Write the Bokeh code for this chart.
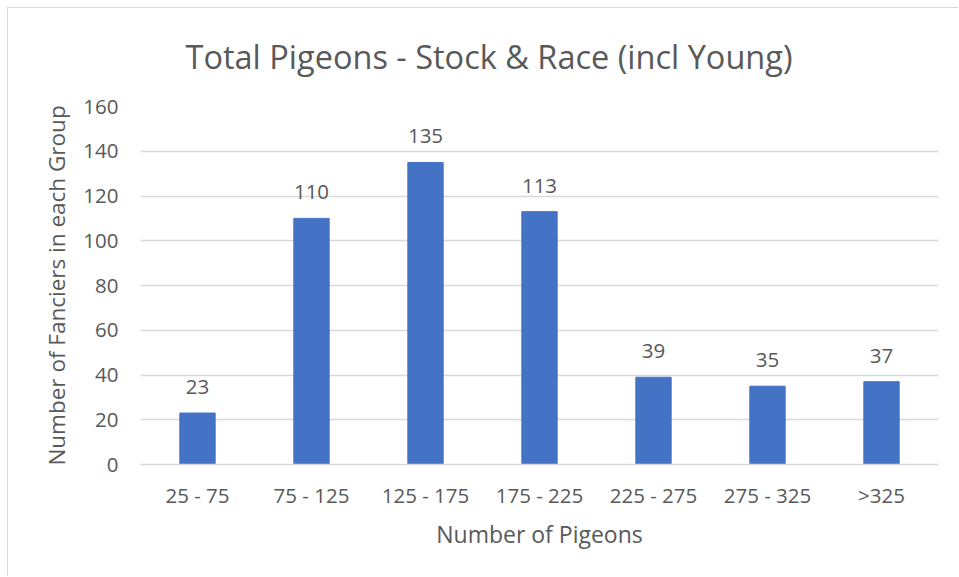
from bokeh.plotting import figure
from bokeh.models import ColumnDataSource, LabelSet, FactorRange, Range1d, SingleIntervalTicker, Title
from bokeh.core.properties import value
from bokeh.embed import file_html
from bokeh.resources import INLINE

categories = ["25 - 75", "75 - 125", "125 - 175", "175 - 225", "225 - 275", "275 - 325", ">325"]
fanciers = [23, 110, 135, 113, 39, 35, 37]

title_text = "Total Pigeons - Stock & Race (incl Young)"
x_label = "Number of Pigeons"
y_label = "Number of Fanciers in each Group"

FONT = "Open Sans"
TXT = "#595959"
GRID = "#d9d9d9"
BAR = "#4472C4"

source = ColumnDataSource(data=dict(cat=categories, val=fanciers, lab=[str(v) for v in fanciers]))

p = figure(
    x_range=FactorRange(*categories, range_padding=0),
    y_range=Range1d(0, 160),
    width=951, height=569,
    output_backend="svg", toolbar_location=None,
    min_border_left=132, min_border_right=21, min_border_top=98, min_border_bottom=113,
)
p.styles = {"margin-left": "7px", "margin-top": "7px",
            "border-left": f"1px solid {GRID}", "border-top": f"1px solid {GRID}"}

p.vbar(x="cat", top="val", width=0.31, source=source, color=BAR, line_color=BAR)

labels = LabelSet(x="cat", y="val", text="lab", source=source, text_align="center",
                  text_baseline="alphabetic", y_offset=19, text_font=value(FONT),
                  text_font_size=value("20.5px"), text_color=value(TXT))
p.add_layout(labels)

p.title = Title(text=title_text, align="left", offset=45, text_font=FONT,
                text_font_size="32.5px", text_font_style="normal", text_color=TXT,
                vertical_align="top", standoff=51)

p.outline_line_color = None
p.background_fill_color = "white"
p.border_fill_color = "white"

p.xgrid.grid_line_color = None
p.ygrid.grid_line_color = GRID
p.ygrid.grid_line_width = 1.5

p.yaxis.ticker = SingleIntervalTicker(interval=20)
for ax in (p.xaxis[0], p.yaxis[0]):
    ax.major_tick_line_color = None
    ax.minor_tick_line_color = None
    ax.major_label_text_font = FONT
    ax.major_label_text_font_size = "20.5px"
    ax.major_label_text_color = TXT
    ax.axis_label_text_font = FONT
    ax.axis_label_text_font_size = "23px"
    ax.axis_label_text_color = TXT
    ax.axis_label_text_font_style = "normal"

p.yaxis.axis_label_text_font_size = "22.5px"
p.yaxis.axis_line_color = None
p.yaxis.major_label_standoff = 16
p.yaxis.axis_label = y_label
p.yaxis.axis_label_standoff = 8

p.xaxis.axis_line_color = GRID
p.xaxis.axis_line_width = 1.5
p.xaxis.major_label_standoff = 10
p.xaxis.axis_label = x_label
p.xaxis.axis_label_standoff = 6

open("out.html", "w").write(file_html(p, INLINE))
